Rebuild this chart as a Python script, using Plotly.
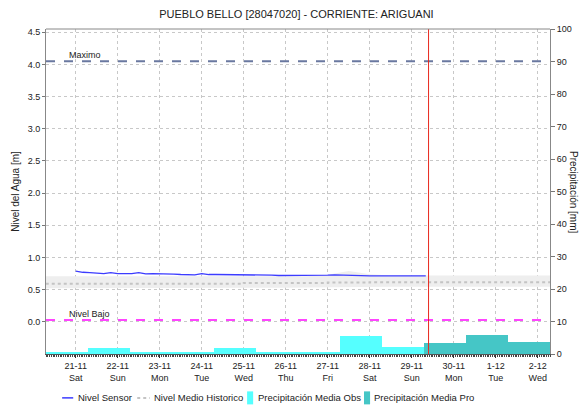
import pandas as pd
import plotly.graph_objects as go

# nivel del sensor, cada 4 horas desde 21-11 00:00
sensor_inicio = "2020-11-21 00:00"
nivel_sensor = [
    0.787, 0.770, 0.765, 0.760, 0.750, 0.765,
    0.750, 0.750, 0.750, 0.765, 0.745, 0.750,
    0.750, 0.750, 0.740, 0.735, 0.735, 0.730,
    0.750, 0.735, 0.735, 0.735, 0.725, 0.730,
    0.730, 0.725, 0.735, 0.735, 0.725, 0.720,
    0.720, 0.715, 0.720, 0.720, 0.715, 0.715,
    0.725, 0.730, 0.725, 0.730, 0.715, 0.715,
    0.715, 0.715, 0.715, 0.715, 0.715, 0.725,
    0.715, 0.715, 0.715,
]

# nivel medio historico y banda, cada 12 horas desde 20-11 00:00
hist_inicio = "2020-11-20 00:00"
hist_medio = [
    0.59, 0.59, 0.59, 0.59, 0.59, 0.59, 0.59, 0.59, 0.59, 0.59,
    0.605, 0.605, 0.605, 0.605, 0.61, 0.61, 0.615, 0.615, 0.615, 0.615,
    0.615, 0.615, 0.615, 0.615, 0.615, 0.615, 0.615,
]
hist_sup = [
    0.71, 0.71, 0.71, 0.71, 0.71, 0.71, 0.71, 0.71, 0.71, 0.71,
    0.71, 0.71, 0.71, 0.71, 0.73, 0.79, 0.74, 0.72, 0.72, 0.72,
    0.72, 0.72, 0.72, 0.72, 0.72, 0.72, 0.72,
]
hist_inf = [
    0.52, 0.52, 0.52, 0.52, 0.52, 0.52, 0.52, 0.52, 0.52, 0.52,
    0.525, 0.53, 0.53, 0.535, 0.54, 0.54, 0.545, 0.545, 0.545, 0.545,
    0.545, 0.545, 0.545, 0.545, 0.545, 0.545, 0.545,
]

# precipitacion diaria (07:00 a 07:00)
obs_dias = ["2020-11-20", "2020-11-21", "2020-11-22", "2020-11-23", "2020-11-24",
            "2020-11-25", "2020-11-26", "2020-11-27", "2020-11-28"]
precip_obs = [0.7, 1.7, 0.6, 0.6, 1.7, 0.7, 0.4, 5.6, 2.2]
pro_dias = ["2020-11-29", "2020-11-30", "2020-12-01"]
precip_pro = [3.3, 5.9, 3.7]

nivel_maximo = 4.05
nivel_bajo = 0.03
ahora = "2020-11-29 09:36"

dias_ticks = ["2020-11-21", "2020-11-22", "2020-11-23", "2020-11-24", "2020-11-25", "2020-11-26",
              "2020-11-27", "2020-11-28", "2020-11-29", "2020-11-30", "2020-12-01", "2020-12-02"]
etiquetas_ticks = ["21-11<br>Sat", "22-11<br>Sun", "23-11<br>Mon", "24-11<br>Tue", "25-11<br>Wed",
                   "26-11<br>Thu", "27-11<br>Fri", "28-11<br>Sat", "29-11<br>Sun", "30-11<br>Mon",
                   "1-12<br>Tue", "2-12<br>Wed"]

FONT = "Liberation Sans, Arial, sans-serif"
DIA = 86400000
AZUL = '#3c3cff'
GRIS = '#c4c4c4'
CIAN = '#55ffff'
TEAL = '#45c6c6'

t_sensor = pd.date_range(sensor_inicio, periods=len(nivel_sensor), freq="4h")
t_hist = pd.date_range(hist_inicio, periods=len(hist_medio), freq="12h")
x_obs = [pd.Timestamp(d) + pd.Timedelta(hours=7) for d in obs_dias]
x_pro = [pd.Timestamp(d) + pd.Timedelta(hours=7) for d in pro_dias]

fig = go.Figure()

fig.add_trace(go.Scatter(x=t_hist, y=hist_sup, mode='lines', line=dict(width=0, color='#eeeeee'),
                         showlegend=False, hoverinfo='skip'))
fig.add_trace(go.Scatter(x=t_hist, y=hist_inf, mode='lines', line=dict(width=0, color='#eeeeee'),
                         fill='tonexty', fillcolor='#eeeeee', showlegend=False, hoverinfo='skip'))

fig.add_trace(go.Scatter(x=t_sensor, y=nivel_sensor, mode='lines', name='Nivel Sensor',
                         line=dict(color=AZUL, width=1.3), showlegend=False))
fig.add_trace(go.Scatter(x=t_hist, y=hist_medio, mode='lines', name='Nivel Medio Historico',
                         line=dict(color=GRIS, width=2, dash='dot', shape='hv'), showlegend=False))

fig.add_trace(go.Bar(x=x_obs, y=precip_obs, width=DIA, offset=0, yaxis='y2', showlegend=False,
                     name='Precipitación Media Obs', marker=dict(color=CIAN, line=dict(width=0))))
fig.add_trace(go.Bar(x=x_pro, y=precip_pro, width=DIA, offset=0, yaxis='y2', showlegend=False,
                     name='Precipitación Media Pro', marker=dict(color=TEAL, line=dict(width=0))))

fig.add_hline(y=nivel_maximo, line=dict(color='#6a78a0', width=2, dash='dash'))
fig.add_hline(y=nivel_bajo, line=dict(color='#ff44ff', width=2, dash='dash'))
fig.add_vline(x=pd.Timestamp(ahora).timestamp() * 1000, line=dict(color='#e8281e', width=1))

fig.add_annotation(text='Maximo', x=0.042, xref='paper', y=nivel_maximo, yref='y',
                   xanchor='left', yanchor='bottom', yshift=-1, showarrow=False,
                   font=dict(size=9, color='#222'))
fig.add_annotation(text='Nivel Bajo', x=0.042, xref='paper', y=nivel_bajo, yref='y',
                   xanchor='left', yanchor='bottom', yshift=-1, showarrow=False,
                   font=dict(size=9, color='#222'))
fig.add_annotation(text='Precipitación [mm]', textangle=90, x=1.0, xref='paper', xshift=31,
                   y=0.5, yref='paper', showarrow=False, font=dict(size=10, color='#222'))

# leyenda inferior (claves cortas como en el original)
ley_y = -0.135
ley = [
    ('Nivel Sensor', 'line', AZUL, 0.032, 0.054, 0.060),
    ('Nivel Medio Historico', 'dot', GRIS, 0.181, 0.206, 0.211),
    ('Precipitación Media Obs', 'box', CIAN, 0.399, 0.411, 0.416),
    ('Precipitación Media Pro', 'box', TEAL, 0.631, 0.643, 0.647),
]
for texto, tipo, color, x0, x1, xt in ley:
    if tipo == 'box':
        fig.add_shape(type='rect', xref='paper', yref='paper', x0=x0, x1=x1,
                      y0=ley_y - 0.02, y1=ley_y + 0.02, fillcolor=color, line=dict(width=0))
    else:
        fig.add_shape(type='line', xref='paper', yref='paper', x0=x0, x1=x1, y0=ley_y, y1=ley_y,
                      line=dict(color=color, width=1.5 if tipo == 'line' else 2,
                                dash='solid' if tipo == 'line' else 'dot'))
    fig.add_annotation(text=texto, x=xt, xref='paper', y=ley_y, yref='paper',
                       xanchor='left', yanchor='middle', showarrow=False,
                       font=dict(size=9.5, color='#222'))

fig.update_xaxes(
    type='date',
    range=['2020-11-20 07:00', '2020-12-02 07:00'],
    tickvals=dias_ticks, ticktext=etiquetas_ticks,
    ticks='outside', ticklen=3, tickcolor='#333',
    minor=dict(dtick=3600000, ticks='outside', ticklen=2, tickcolor='#444', showgrid=False),
    showgrid=True, gridcolor='#c8c8c8', griddash='dot', gridwidth=1,
    showline=True, linecolor='#555', mirror=False, automargin=False,
    tickfont=dict(size=9, color='#222'),
)
fig.update_layout(
    yaxis=dict(range=[-0.5, 4.55], tickvals=[0, 0.5, 1, 1.5, 2, 2.5, 3, 3.5, 4, 4.5], tickformat='.1f',
               ticks='outside', ticklen=3, tickcolor='#777',
               showgrid=True, gridcolor='#c8c8c8', griddash='dot', zeroline=False,
               showline=True, linecolor='#888', automargin=False,
               title=dict(text='Nivel del Agua [m]', font=dict(size=10, color='#222'), standoff=6),
               tickfont=dict(size=9, color='#222')),
    yaxis2=dict(range=[0, 100], dtick=10, overlaying='y', side='right', showgrid=False, zeroline=False,
                ticks='outside', ticklen=4, tickcolor='#777', showline=True, linecolor='#888',
                automargin=False, tickfont=dict(size=9, color='#222')),
)

fig.update_layout(
    title=dict(text='PUEBLO BELLO [28047020] - CORRIENTE: ARIGUANI', x=0.505, xanchor='center',
               y=0.965, yanchor='middle', font=dict(size=11, color='#222')),
    width=587, height=405,
    margin=dict(l=46, r=37, t=29, b=51, autoexpand=False),
    plot_bgcolor='white', paper_bgcolor='white',
    font=dict(family=FONT),
    barmode='overlay', bargap=0,
    showlegend=False,
    hovermode=False,
)
fig.add_shape(type='line', xref='paper', yref='paper', x0=0, x1=1, y0=1, y1=1,
              line=dict(color='#888', width=1))

fig.write_html("out.html", config={'displayModeBar': False},
               post_script="document.body.style.margin='0';")
